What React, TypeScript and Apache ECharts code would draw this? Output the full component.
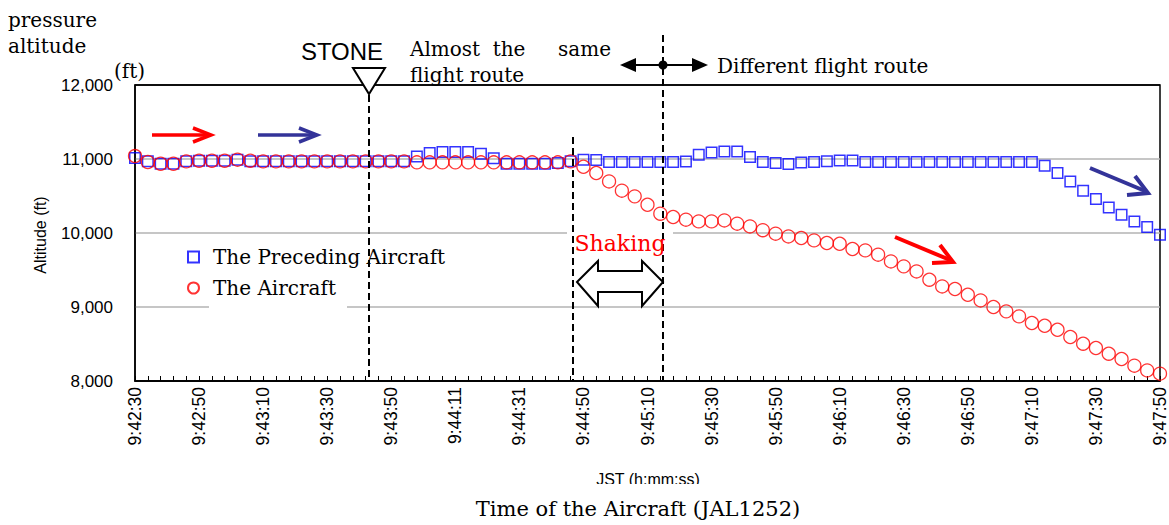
import React, { useEffect, useRef } from "react";
import * as echarts from "echarts";

const categories = [
  "9:42:30", "9:42:34", "9:42:38", "9:42:42", "9:42:46",
  "9:42:50", "9:42:54", "9:42:58", "9:43:02", "9:43:06",
  "9:43:10", "9:43:14", "9:43:18", "9:43:22", "9:43:26",
  "9:43:30", "9:43:34", "9:43:38", "9:43:42", "9:43:46",
  "9:43:50", "9:43:54", "9:43:58", "9:44:03", "9:44:07",
  "9:44:11", "9:44:15", "9:44:19", "9:44:23", "9:44:27",
  "9:44:31", "9:44:35", "9:44:39", "9:44:43", "9:44:46",
  "9:44:50", "9:44:54", "9:44:58", "9:45:02", "9:45:06",
  "9:45:10", "9:45:14", "9:45:18", "9:45:22", "9:45:26",
  "9:45:30", "9:45:34", "9:45:38", "9:45:42", "9:45:46",
  "9:45:50", "9:45:54", "9:45:58", "9:46:02", "9:46:06",
  "9:46:10", "9:46:14", "9:46:18", "9:46:22", "9:46:26",
  "9:46:30", "9:46:34", "9:46:38", "9:46:42", "9:46:46",
  "9:46:50", "9:46:54", "9:46:58", "9:47:02", "9:47:06",
  "9:47:10", "9:47:14", "9:47:18", "9:47:22", "9:47:26",
  "9:47:30", "9:47:34", "9:47:38", "9:47:42", "9:47:46",
  "9:47:50",
];

const precedingAircraft = [
  11014, 10968, 10936, 10936, 10968, 10977, 10977, 10977, 10991, 10968,
  10968, 10968, 10968, 10968, 10968, 10968, 10968, 10968, 10968, 10968,
  10968, 10968, 11035, 11081, 11095, 11095, 11095, 11072, 11010, 10936,
  10936, 10936, 10936, 10945, 10968, 10991, 10985, 10959, 10959, 10959,
  10959, 10959, 10959, 10965, 11058, 11089, 11103, 11103, 11027, 10959,
  10946, 10932, 10954, 10959, 10968, 10981, 10981, 10959, 10959, 10959,
  10959, 10959, 10959, 10959, 10959, 10959, 10959, 10959, 10959, 10959,
  10959, 10909, 10811, 10697, 10572, 10459, 10346, 10247, 10157, 10081,
  9977,
];

const theAircraft = [
  11040, 10959, 10936, 10936, 10968, 10977, 10977, 10977, 10991, 10977,
  10968, 10968, 10968, 10968, 10968, 10968, 10968, 10968, 10968, 10968,
  10968, 10968, 10955, 10955, 10955, 10955, 10955, 10955, 10955, 10955,
  10955, 10955, 10955, 10955, 10968, 10895, 10811, 10697, 10572, 10495,
  10382, 10261, 10216, 10180, 10157, 10157, 10170, 10126, 10089, 10038,
  9991, 9954, 9932, 9900, 9865, 9855, 9784, 9765, 9707, 9616,
  9549, 9481, 9369, 9278, 9243, 9166, 9089, 9000, 8941, 8873,
  8784, 8747, 8693, 8595, 8504, 8446, 8369, 8297, 8207, 8143,
  8099,
];

const seriesNames = ["The Preceding Aircraft", "The Aircraft"];
const yMin = 8000;
const yMax = 12000;
const yStep = 1000;

const SERIF = "'DejaVu Serif', serif";
const SANS = "'Liberation Sans', Arial, sans-serif";
const NAVY = "#333399";

export default function App() {
  const ref = useRef<HTMLDivElement>(null);

  useEffect(() => {
    document.body.style.margin = "0";
    if (!ref.current) return;
    const chart = echarts.init(ref.current, undefined, { renderer: "svg" });

    const dash = (x: number, y1: number, y2: number) => ({
      type: "line",
      z: 10,
      shape: { x1: x, y1, x2: x, y2 },
      style: { stroke: "#000", lineWidth: 2, lineDash: [7, 4] },
    });
    const txt = (
      text: string,
      x: number,
      y: number,
      opts: any = {}
    ) => ({
      type: "text",
      z: 10,
      x,
      y,
      style: {
        text,
        font: opts.font || `20px ${SERIF}`,
        fill: opts.fill || "#000",
        align: opts.align || "left",
        verticalAlign: opts.verticalAlign || "middle",
      },
      rotation: opts.rotation || 0,
    });

    chart.setOption({
      animation: false,
      backgroundColor: "#fff",
      grid: {
        left: 135,
        right: 7,
        top: 85,
        bottom: 144,
        show: true,
        borderColor: "#000",
        borderWidth: 1.5,
        backgroundColor: "transparent",
      },
      legend: {
        orient: "vertical",
        left: 182,
        top: 242,
        itemWidth: 11,
        itemHeight: 11,
        itemGap: 11,
        data: seriesNames,
        textStyle: {
          fontFamily: SERIF,
          fontSize: 20,
          color: "#000",
          padding: [0, 0, 0, 9],
        },
      },
      xAxis: {
        type: "category",
        data: categories,
        boundaryGap: false,
        axisLine: { lineStyle: { color: "#000", width: 1.5 } },
        axisTick: {
          inside: true,
          interval: 0,
          length: 5,
          lineStyle: { color: "#000", width: 1 },
        },
        axisLabel: {
          interval: 4,
          rotate: 90,
          margin: 6,
          fontFamily: SANS,
          fontSize: 17.5,
          color: "#000",
        },
        splitLine: { show: false },
      },
      yAxis: {
        type: "value",
        min: yMin,
        max: yMax,
        interval: yStep,
        axisLine: { show: true, lineStyle: { color: "#000", width: 1.5 } },
        axisTick: { show: false },
        axisLabel: {
          margin: 22,
          fontFamily: SANS,
          fontSize: 17,
          color: "#000",
          formatter: (v: number) => v.toLocaleString("en-US"),
        },
        splitLine: {
          show: true,
          lineStyle: {
            color: ["#000", "#b3b3b3", "#b3b3b3", "#b3b3b3", "#000"],
            width: 1.5,
          },
        },
      },
      series: [
        {
          name: seriesNames[0],
          type: "scatter",
          data: precedingAircraft,
          symbol: "rect",
          symbolSize: 10.5,
          z: 3,
          itemStyle: {
            color: "rgba(255,255,255,0)",
            borderColor: "#0000ff",
            borderWidth: 1.5,
          },
        },
        {
          name: seriesNames[1],
          type: "scatter",
          data: theAircraft,
          symbol: "circle",
          symbolSize: 13,
          z: 4,
          itemStyle: {
            color: "rgba(255,255,255,0)",
            borderColor: "#ff0000",
            borderWidth: 1.3,
          },
        },
      ],
      graphic: [
        {
          type: "rect",
          z: 1,
          shape: { x: 209, y: 301, width: 138, height: 12 },
          style: { fill: "#fff" },
        },
        {
          type: "rect",
          z: 1,
          shape: { x: 567, y: 227, width: 106, height: 12 },
          style: { fill: "#fff" },
        },
        txt("pressure", 8, 20),
        txt("altitude", 8, 46),
        txt("(ft)", 114, 71),
        txt("STONE", 342, 51, { font: `24px ${SANS}`, align: "center" }),
        {
          type: "polygon",
          z: 10,
          shape: { points: [[353, 68], [385, 68], [369, 94]] },
          style: { fill: "#fff", stroke: "#000", lineWidth: 2 },
        },
        dash(369, 95, 381),
        txt("Almost", 410, 49),
        txt("the", 509, 49, { align: "center" }),
        txt("same", 611, 49, { align: "right" }),
        txt("flight route", 410, 75),
        dash(663, 35, 381),
        {
          type: "line",
          z: 11,
          shape: { x1: 630, y1: 65, x2: 698, y2: 65 },
          style: { stroke: "#000", lineWidth: 2 },
        },
        {
          type: "polygon",
          z: 11,
          shape: { points: [[620, 65], [636, 58], [636, 72]] },
          style: { fill: "#000" },
        },
        {
          type: "polygon",
          z: 11,
          shape: { points: [[708, 65], [692, 58], [692, 72]] },
          style: { fill: "#000" },
        },
        {
          type: "circle",
          z: 11,
          shape: { cx: 663, cy: 65, r: 4.5 },
          style: { fill: "#000" },
        },
        txt("Different flight route", 717, 66),
        {
          type: "line",
          z: 10,
          shape: { x1: 152, y1: 135, x2: 209, y2: 135 },
          style: { stroke: "#ff0000", lineWidth: 3.5 },
        },
        {
          type: "polyline",
          z: 10,
          shape: { points: [[193, 128], [211, 135], [193, 142]] },
          style: { stroke: "#ff0000", lineWidth: 3.5, fill: "none" },
        },
        {
          type: "line",
          z: 10,
          shape: { x1: 258, y1: 135, x2: 315, y2: 135 },
          style: { stroke: NAVY, lineWidth: 3.5 },
        },
        {
          type: "polyline",
          z: 10,
          shape: { points: [[299, 128], [317, 135], [299, 142]] },
          style: { stroke: NAVY, lineWidth: 3.5, fill: "none" },
        },
        dash(573, 137, 381),
        txt("Shaking", 620, 243, { font: `22px ${SERIF}`, fill: "#ff0000", align: "center" }),
        {
          type: "polygon",
          z: 10,
          shape: {
            points: [
              [577, 282], [598, 261], [598, 271], [642, 271], [642, 261],
              [663, 282], [642, 306], [642, 292], [598, 292], [598, 306],
            ],
          },
          style: { fill: "#fff", stroke: "#000", lineWidth: 2 },
        },
        {
          type: "line",
          z: 10,
          shape: { x1: 895, y1: 237, x2: 950, y2: 260 },
          style: { stroke: "#ff0000", lineWidth: 4 },
        },
        {
          type: "polyline",
          z: 10,
          shape: { points: [[940, 245], [953, 262], [932, 263]] },
          style: { stroke: "#ff0000", lineWidth: 4, fill: "none" },
        },
        {
          type: "line",
          z: 10,
          shape: { x1: 1090, y1: 168, x2: 1145, y2: 191 },
          style: { stroke: NAVY, lineWidth: 4 },
        },
        {
          type: "polyline",
          z: 10,
          shape: { points: [[1135, 176], [1148, 193], [1127, 195]] },
          style: { stroke: NAVY, lineWidth: 4, fill: "none" },
        },
        txt("Altitude (ft)", 40, 235, {
          font: `16px ${SANS}`,
          align: "center",
          rotation: Math.PI / 2,
        }),
        txt("JST (h:mm:ss)", 648, 487, {
          font: `16px ${SANS}`,
          align: "center",
          verticalAlign: "bottom",
        }),
        {
          type: "rect",
          z: 12,
          shape: { x: 560, y: 484, width: 180, height: 12 },
          style: { fill: "#fff" },
        },
        txt("Time of the Aircraft (JAL1252)", 638, 509, {
          font: `21px ${SERIF}`,
          align: "center",
        }),
      ],
    });

    return () => chart.dispose();
  }, []);

  return (
    <div
      ref={ref}
      style={{ position: "absolute", left: 0, top: 0, width: 1169, height: 525 }}
    />
  );
}
